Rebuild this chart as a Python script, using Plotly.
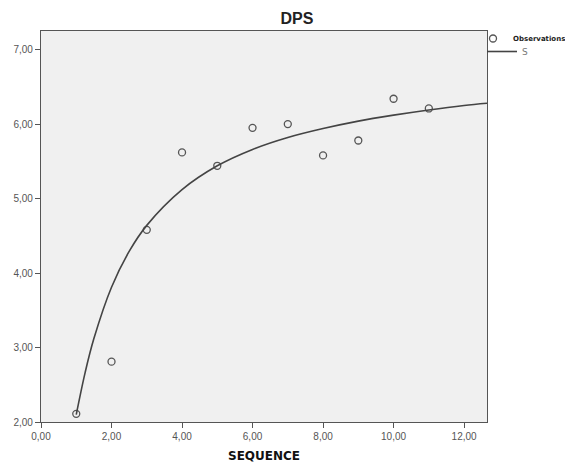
import plotly.graph_objects as go

# Observations
seq = [1, 2, 3, 4, 5, 6, 7, 8, 9, 10, 11]
dps = [2.11, 2.81, 4.58, 5.62, 5.44, 5.95, 6.00, 5.58, 5.78, 6.34, 6.21]

# S-curve fit, values
fit_x = [1, 1.25, 1.5, 2, 2.5, 3, 4, 5, 6, 7, 8, 9, 10, 11, 12, 12.65]
fit_y = [2.10, 2.66, 3.12, 3.81, 4.29, 4.64, 5.12, 5.44, 5.66, 5.82, 5.94, 6.04, 6.12, 6.19, 6.25, 6.28]

x_ticks = [0, 2, 4, 6, 8, 10, 12]
y_ticks = [2, 3, 4, 5, 6, 7]

W, H = 565, 455  # page body has an 8px default margin

fig = go.Figure()
fig.add_trace(go.Scatter(
    x=seq, y=dps, mode="markers", name="<b>Observations</b>", legend="legend",
    marker=dict(symbol="circle-open", size=7, color="#555555", line=dict(width=1.3, color="#555555")),
))
fig.add_trace(go.Scatter(
    x=fit_x, y=fit_y, mode="lines", name="S", line_shape="spline", legend="legend2",
    line=dict(color="#444444", width=1.6),
))

axis_common = dict(
    showgrid=False, zeroline=False, showline=True, linecolor="#555555", linewidth=1.2,
    mirror=True, ticks="outside", ticklen=5, tickcolor="#555555", automargin=False,
    tickfont=dict(family="Arial", size=10, color="#555555"), tickformat=".2f",
)
fig.update_xaxes(range=[0, 12.65], tickvals=x_ticks, **axis_common,
                 title=dict(text="<b>SEQUENCE</b>", font=dict(family="DejaVu Sans", size=12, color="#111111"), standoff=10))
fig.update_yaxes(range=[2, 7.25], tickvals=y_ticks, **axis_common)

leg_common = dict(xref="container", yref="container", xanchor="left", yanchor="top",
                  bgcolor="rgba(0,0,0,0)", itemwidth=30, tracegroupgap=0)

fig.update_layout(
    width=W, height=H,
    margin=dict(l=33, r=W - 479, t=23, b=H - 414, autoexpand=False),
    paper_bgcolor="white", plot_bgcolor="#f0f0f0",
    separators=",.",
    title=dict(text="<b>DPS</b>", x=289 / W, xanchor="center", y=1 - 10 / H, yanchor="middle",
               font=dict(family="Arial", size=16, color="#222222")),
    showlegend=True,
    legend=dict(x=465 / W, y=1 - 16 / H, font=dict(family="DejaVu Sans", size=7, color="#222222"), **leg_common),
    legend2=dict(x=474 / W, y=1 - 29 / H, font=dict(family="DejaVu Sans", size=9, color="#777777"), **leg_common),
)

fig.write_html("out.html")
